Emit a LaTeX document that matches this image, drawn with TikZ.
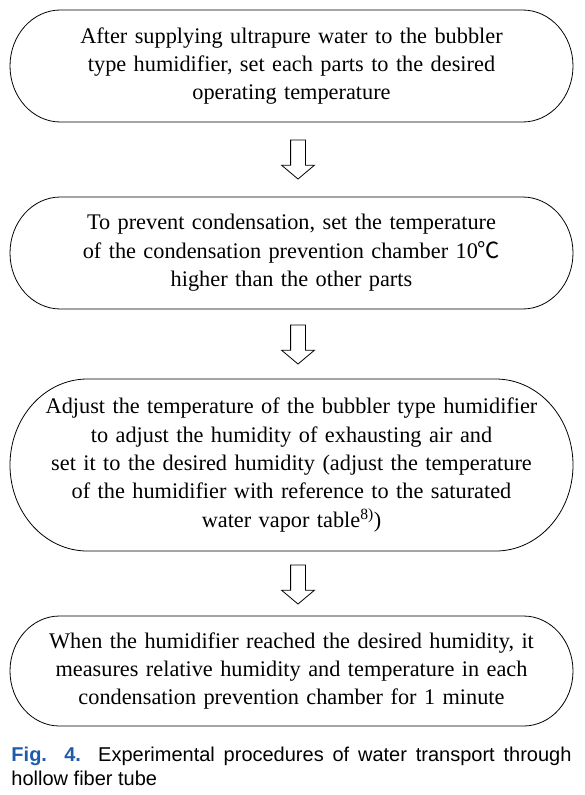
\documentclass[tikz,border=0pt]{standalone}
\usepackage{fontspec}
\setmainfont{Liberation Serif}
\setsansfont{Liberation Sans}
\newfontfamily\symfont{Noto Sans CJK KR}
\usetikzlibrary{shapes.arrows, positioning, calc}
\definecolor{figblue}{RGB}{31,91,168}
\tikzstyle{stepbox} = [rectangle, minimum width=563pt, inner sep=0pt, outer sep=0pt, text width=550pt, align=center, font=\fontsize{22.3}{28.4}\selectfont]
\tikzstyle{outline} = [draw=black, line width=0.8pt]
\tikzstyle{downarrow} = [single arrow, draw=black, fill=white, line width=0.8pt, shape border rotate=270, minimum height=39pt, inner sep=7pt, single arrow head extend=9pt, single arrow tip angle=100, outer sep=0pt, anchor=tail]
\tikzstyle{caption} = [inner sep=0pt, outer sep=0pt, text width=560pt, align=justify, font=\sffamily\fontsize{20}{23.5}\selectfont]

\begin{document}
\begin{tikzpicture}[x=1pt, y=-1pt]
\useasboundingbox (0,0) rectangle (584,795);

\node (b1) [stepbox, minimum height=112pt] at (291.5,66) {After supplying ultrapure water to the bubbler\\ type humidifier, set each parts to the desired\\ operating temperature};
\node (a1) [downarrow, below=18pt of b1.south, xshift=6.5pt] {};
\node (b2) [stepbox, minimum height=112pt, below=18pt of a1.tip, xshift=-6.5pt] {To prevent condensation, set the temperature\\ of the condensation prevention chamber 10{\symfont ℃}\\ higher than the other parts};
\node (a2) [downarrow, below=16pt of b2.south, xshift=6.5pt] {};
\node (b3) [stepbox, minimum height=172pt, below=15pt of a2.tip, xshift=-6.5pt] {Adjust the temperature of the bubbler type humidifier\\ to adjust the humidity of exhausting air and\\ set it to the desired humidity (adjust the temperature\\ of the humidifier with reference to the saturated\\ water vapor table\textsuperscript{8)})};
\node (a3) [downarrow, below=14pt of b3.south, xshift=6.5pt] {};
\node (b4) [stepbox, minimum height=110pt, below=12pt of a3.tip, xshift=-6.5pt] {When the humidifier reached the desired humidity, it\\ measures relative humidity and temperature in each\\ condensation prevention chamber for 1 minute};
\node (cap) [caption, below=21pt of b4] {{\bfseries\color{figblue}Fig. 4.} Experimental procedures of water transport through \mbox{hollow} fiber tube};

\foreach \b in {b1,b2,b3,b4}
  \draw[outline] let \p1=(\b.north east), \p2=(\b.south west), \n1={(\y1-\y2)/2}, \n2={0.9*\n1} in
    (\x2+\n2,\y1) -- (\x1-\n2,\y1)
    arc[start angle=90, end angle=-90, x radius=\n2, y radius=\n1]
    -- (\x2+\n2,\y2)
    arc[start angle=270, end angle=90, x radius=\n2, y radius=\n1] -- cycle;

\end{tikzpicture}
\end{document}
